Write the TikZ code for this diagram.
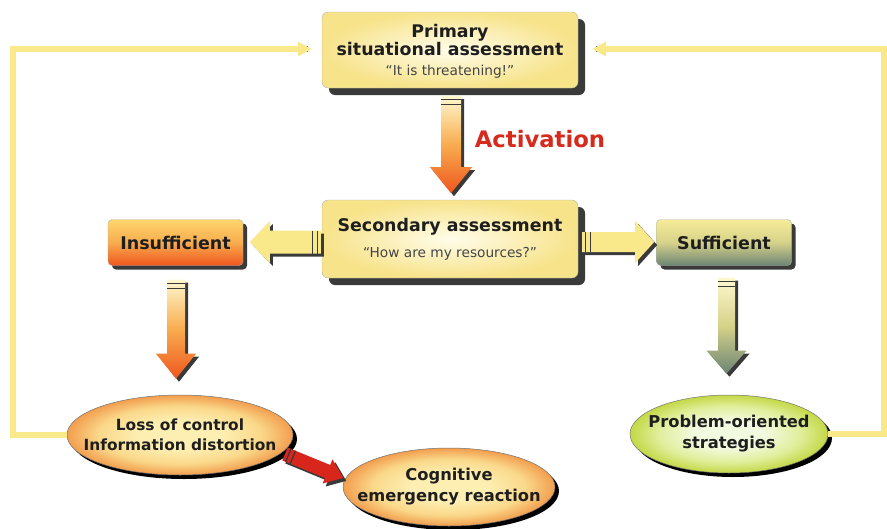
\documentclass[tikz,border=0pt]{standalone}
\usepackage{fontspec}
\setmainfont{DejaVu Sans}
\usetikzlibrary{shapes.geometric,calc,shadows,arrows.meta}
\definecolor{txt}{HTML}{1E1E1E}
\definecolor{qtxt}{HTML}{454545}
\definecolor{boxin}{HTML}{FFFDEA}
\definecolor{boxout}{HTML}{F7E38A}
\definecolor{boxtop}{HTML}{FFF8CF}
\definecolor{shadowc}{HTML}{3A3A3A}
\definecolor{fb}{HTML}{FAE98A}
\definecolor{actred}{HTML}{D62A1C}
\definecolor{orgtop}{HTML}{FCD66C}
\definecolor{orgmid}{HTML}{F8AC4E}
\definecolor{orgbot}{HTML}{EF561E}
\definecolor{suftop}{HTML}{F6EC98}
\definecolor{sufmid}{HTML}{D6D28A}
\definecolor{sufbot}{HTML}{6C8474}
\definecolor{ellin}{HTML}{FDEFB2}
\definecolor{ellmid}{HTML}{FAD88A}
\definecolor{ellout}{HTML}{F29E4E}
\definecolor{grin}{HTML}{F2FADF}
\definecolor{grmid}{HTML}{E0EE9A}
\definecolor{grout}{HTML}{C4D846}
\definecolor{redarr}{HTML}{D8261C}
\pgfdeclareradialshading{ellsh}{\pgfpoint{0bp}{0bp}}{color(0bp)=(ellin); color(9bp)=(ellin); color(18bp)=(ellmid); color(25bp)=(ellout); color(50bp)=(ellout)}
\pgfdeclareradialshading{grsh}{\pgfpoint{0bp}{0bp}}{color(0bp)=(grin); color(9bp)=(grin); color(18bp)=(grmid); color(25bp)=(grout); color(50bp)=(grout)}
\newcommand\titlef{\fontsize{17.4}{22}\selectfont\bfseries}
\newcommand\quotef{\fontsize{13.7}{16}\selectfont\mdseries\color{qtxt}}
\newcommand\smallb{\fontsize{17.5}{20}\selectfont\bfseries}
% #1 coordinate name, #2 rotation, #3 length, #4 head length, #5 shaft half width, #6 head half width, #7 fill options
\newcommand\blockarr[7]{%
  \begin{scope}[shift={($(#1)+(3,3)$)},rotate=#2]
    \fill[shadowc] (-#5,0) -- (-#5,#3-#4) -- (-#6,#3-#4) -- (0,#3) -- (#6,#3-#4) -- (#5,#3-#4) -- (#5,0) -- cycle;
  \end{scope}
  \begin{scope}[shift={(#1)},rotate=#2]
    \path[#7] (-#5,0) -- (-#5,#3-#4) -- (-#6,#3-#4) -- (0,#3) -- (#6,#3-#4) -- (#5,#3-#4) -- (#5,0) -- cycle;
    \draw[stripe] (-#5,3.5) -- (#5,3.5) (-#5,8.5) -- (#5,8.5);
  \end{scope}}
\begin{document}
\begin{tikzpicture}[x=1pt,y=-1pt,
  stripe/.style={draw=shadowc,line width=1.3pt},
  bigbox/.style={rectangle,rounded corners=6pt,draw=black!30,line width=0.4pt,
    inner color=boxin,outer color=boxout,align=center,text=txt,inner sep=0pt,
    minimum width=256pt,
    drop shadow={shadow xshift=7pt,shadow yshift=-7pt,fill=shadowc,opacity=1}},
  smallbox/.style={rectangle,rounded corners=4pt,draw=black!30,line width=0.4pt,
    align=center,text=txt,inner sep=0pt,minimum width=135pt,minimum height=46pt,font=\smallb,
    drop shadow={shadow xshift=4pt,shadow yshift=-4pt,fill=shadowc,opacity=1}},
  ell/.style={ellipse,draw=black!55,line width=0.5pt,align=center,text=txt,
    inner xsep=-20pt,inner ysep=-5pt,
    drop shadow={shadow xshift=4pt,shadow yshift=-4pt,fill=black,opacity=1}},
  fbline/.style={draw=fb,line width=6pt},
  fbshadow/.style={draw=black!60,line width=6pt},
]
\useasboundingbox (0,0) rectangle (887,528);

% nodes
\node[bigbox,minimum height=76pt] (prim) at (450,50)
  {\titlef\rule{0pt}{16pt}Primary\\ \titlef situational assessment\\[8pt] \quotef “It is threatening!”};
\node[bigbox,minimum height=78pt] (sec) at (450,239)
  {\titlef Secondary assessment\\[11pt] \quotef “How are my resources?”};
\node[smallbox,top color=orgtop,bottom color=orgbot,middle color=orgmid] (insuf) at (175.5,242.5) {Insufficient};
\node[smallbox,top color=suftop,bottom color=sufbot,middle color=sufmid] (suf) at (724,242.5) {Sufficient};
\node[ell,shading=ellsh,minimum width=226pt,minimum height=80pt,
  font=\fontsize{15.4}{20}\selectfont\bfseries] (loss) at (180,435)
  {Loss of control\\Information distortion};
\node[ell,shading=ellsh,minimum width=212pt,minimum height=78pt,
  font=\fontsize{16.3}{21}\selectfont\bfseries] (cog) at (449,487)
  {Cognitive\\emergency reaction};
\node[ell,shading=grsh,minimum width=198pt,minimum height=78pt,
  font=\fontsize{16.3}{21}\selectfont\bfseries] (prob) at (729,434)
  {Problem-oriented\\strategies};
\node[font=\fontsize{22.7}{26}\selectfont\bfseries,text=actred] (act) at (540,139) {Activation};

% feedback loops
\coordinate (lc) at (13,49);
\coordinate (rc) at (884,49);
\begin{scope}[xshift=1.5pt,yshift=-1.5pt]
\draw[fbshadow] (loss.west) -| (lc) -- ($(prim.west)+(-14,-1)$);
\draw[fbshadow] (prob.east) -| (rc) -- ($(prim.east)+(18,-1)$);
\end{scope}
\draw[fbline,-{Triangle[length=14pt,width=14pt]}] (loss.west) -| (lc) -- ($(prim.west)+(-10,-1)$);
\draw[fbline,-{Triangle[length=14pt,width=14pt]}] (prob.east) -| (rc) -- ($(prim.east)+(14,-1)$);

% block arrows
\coordinate (a1) at ($(prim.south)+(1,8)$);
\blockarr{a1}{0}{97}{26}{10}{21}{top color=boxtop,bottom color=orgbot,middle color=orgmid}
\coordinate (a2) at ($(sec.west)+(-1,3)$);
\blockarr{a2}{-90}{71}{20}{11.5}{21}{fill=fb}
\coordinate (a3) at ($(sec.east)+(4,3)$);
\blockarr{a3}{90}{72}{19}{10}{21}{fill=fb}
\coordinate (a4) at ($(insuf.south)+(0.5,14)$);
\blockarr{a4}{0}{99}{25}{9}{20}{top color=boxtop,bottom color=orgbot,middle color=orgmid}
\coordinate (a5) at ($(suf.south)+(2.5,12)$);
\blockarr{a5}{0}{96}{23}{8.5}{20}{top color=boxtop,bottom color=sufbot,middle color=sufmid}
\coordinate (a6) at (285,454);
\blockarr{a6}{67.7}{63}{17}{7}{13}{fill=redarr}
\end{tikzpicture}
\end{document}
